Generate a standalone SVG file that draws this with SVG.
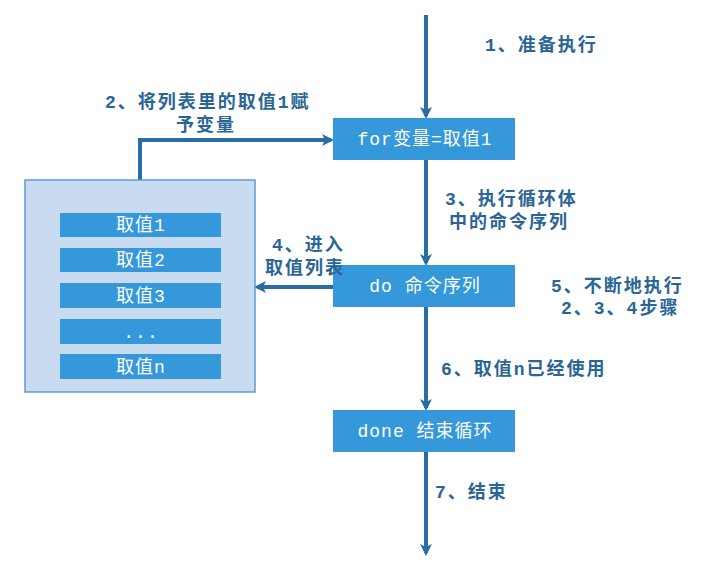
<svg xmlns="http://www.w3.org/2000/svg" width="705" height="570" viewBox="0 0 705 570">
<defs>
<marker id="ah" markerWidth="12" markerHeight="12" refX="9" refY="6" orient="auto" markerUnits="userSpaceOnUse" viewBox="0 0 12 12">
<path d="M0,0 L12,6 L0,12 L3,6 Z" fill="#2A6DA3"/>
</marker>
<style>
.box{fill:#3498DB;}
.bt{font-family:"Liberation Mono","Noto Sans CJK SC",monospace;font-size:18px;fill:#fff;text-anchor:middle;letter-spacing:1px;}
.lb{font-family:"Liberation Mono","Noto Sans CJK SC",monospace;font-size:18px;font-weight:bold;fill:#2A6596;letter-spacing:2px;}
.cn{fill:none;stroke:#2A6DA3;stroke-width:4;}
</style>
</defs>
<rect width="705" height="570" fill="#fff"/>
<g id="connectors">
<path class="cn" d="M426,15 V116" marker-end="url(#ah)"/>
<path class="cn" d="M426,160 V263" marker-end="url(#ah)"/>
<path class="cn" d="M426,307 V408" marker-end="url(#ah)"/>
<path class="cn" d="M426,452 V553" marker-end="url(#ah)"/>
<path class="cn" d="M140,180 V140 H331" marker-end="url(#ah)"/>
<path class="cn" d="M333,287 H257" marker-end="url(#ah)"/>
</g>
<g id="list">
<rect x="25" y="180" width="230" height="212" fill="#C9DBF0" stroke="#5B9BD5" stroke-width="1.5"/>
<g id="v1"><rect class="box" x="60" y="213" width="161" height="24"/><text class="bt" x="141" y="231">取值1</text></g>
<g id="v2"><rect class="box" x="60" y="248" width="161" height="24"/><text class="bt" x="141" y="266">取值2</text></g>
<g id="v3"><rect class="box" x="60" y="283" width="161" height="25"/><text class="bt" x="141" y="302">取值3</text></g>
<g id="vdots"><rect class="box" x="60" y="319" width="161" height="25"/><text class="bt" x="141" y="338">...</text></g>
<g id="vn"><rect class="box" x="60" y="354" width="161" height="25"/><text class="bt" x="141" y="373">取值n</text></g>
</g>
<g id="for"><rect class="box" x="333" y="118" width="182" height="42"/><text class="bt" x="425" y="145">for变量=取值1</text></g>
<g id="do"><rect class="box" x="333" y="265" width="182" height="42"/><text class="bt" x="425" y="292">do 命令序列</text></g>
<g id="done"><rect class="box" x="333" y="410" width="182" height="42"/><text class="bt" x="425" y="437">done 结束循环</text></g>
<g id="labels">
<text class="lb" x="485" y="51">1、准备执行</text>
<text class="lb" x="105" y="108">2、将列表里的取值1赋</text>
<text class="lb" x="206" y="131" text-anchor="middle">予变量</text>
<text class="lb" x="445" y="205">3、执行循环体</text>
<text class="lb" x="449" y="228">中的命令序列</text>
<text class="lb" x="272" y="251">4、进入</text>
<text class="lb" x="265" y="274">取值列表</text>
<text class="lb" x="551" y="292">5、不断地执行</text>
<text class="lb" x="561" y="314">2、3、4步骤</text>
<text class="lb" x="441" y="375">6、取值n已经使用</text>
<text class="lb" x="435" y="498">7、结束</text>
</g>
</svg>
